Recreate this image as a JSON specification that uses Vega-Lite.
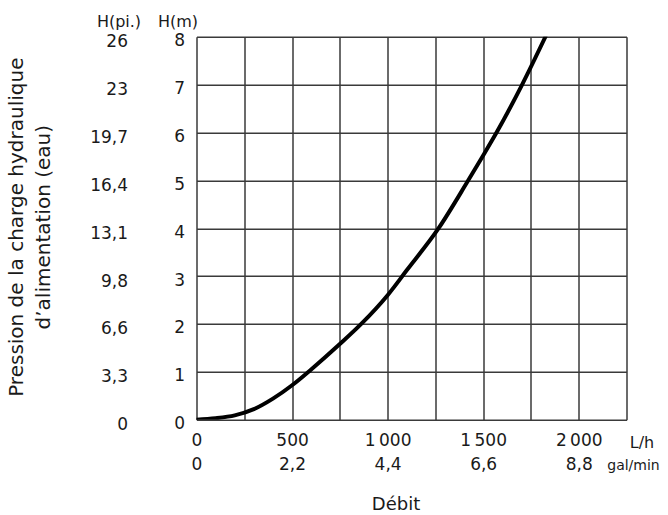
{
  "$schema": "https://vega.github.io/schema/vega-lite/v6.json",
  "width": 430,
  "height": 383,
  "autosize": {"type": "none"},
  "padding": {"left": 196.5, "top": 36.7, "right": 41.5, "bottom": 95.3},
  "background": "white",
  "config": {
    "view": {"stroke": null},
    "font": "DejaVu Sans",
    "axis": {
      "labelColor": "#1a1a1a",
      "titleColor": "#1a1a1a",
      "titleFontWeight": "normal",
      "labelFont": "DejaVu Sans",
      "titleFont": "DejaVu Sans"
    }
  },
  "data": {
    "values": [
      {"Lh": 0, "m": 0},
      {"Lh": 100, "m": 0.03},
      {"Lh": 200, "m": 0.09},
      {"Lh": 300, "m": 0.22},
      {"Lh": 400, "m": 0.44},
      {"Lh": 500, "m": 0.72},
      {"Lh": 600, "m": 1.05},
      {"Lh": 750, "m": 1.58},
      {"Lh": 862, "m": 2.0},
      {"Lh": 1000, "m": 2.6},
      {"Lh": 1100, "m": 3.12},
      {"Lh": 1267, "m": 4.0},
      {"Lh": 1419, "m": 4.98},
      {"Lh": 1500, "m": 5.52},
      {"Lh": 1573, "m": 6.02},
      {"Lh": 1704, "m": 7.0},
      {"Lh": 1826, "m": 8.0}
    ]
  },
  "layer": [
    {
      "mark": {"type": "line", "stroke": "black", "strokeWidth": 4, "interpolate": "monotone", "strokeCap": "round", "clip": true},
      "encoding": {
        "x": {
          "field": "Lh", "type": "quantitative",
          "scale": {"domain": [0, 2250], "nice": false},
          "axis": {
            "orient": "bottom",
            "values": [0, 250, 500, 750, 1000, 1250, 1500, 1750, 2000, 2250],
            "grid": true, "gridColor": "#3a3a3a", "gridWidth": 1.5,
            "domain": false, "ticks": false,
            "labelExpr": "datum.value == 0 ? ['0','0'] : datum.value == 500 ? ['500','2,2'] : datum.value == 1000 ? ['1\u202f000','4,4'] : datum.value == 1500 ? ['1\u202f500','6,6'] : datum.value == 2000 ? ['2\u202f000','8,8'] : ''",
            "labelOverlap": false, "labelFlush": false,
            "labelFontSize": 17, "labelLineHeight": 24, "labelBaseline": "top", "labelPadding": 13,
            "title": "Débit", "titleFontSize": 18, "titleX": 199, "titleY": 90,
            "titleAlign": "center", "titleBaseline": "alphabetic", "titleAnchor": null
          }
        },
        "y": {
          "field": "m", "type": "quantitative",
          "scale": {"domain": [0, 8], "nice": false},
          "axis": {
            "orient": "left",
            "values": [0, 1, 2, 3, 4, 5, 6, 7, 8],
            "grid": true, "gridColor": "#3a3a3a", "gridWidth": 1.5,
            "domain": false, "ticks": false,
            "labelFontSize": 17, "labelPadding": 12, "labelOffset": 4, "labelBaseline": "middle",
            "title": "H(m)", "titleFontSize": 16, "titleAngle": 0, "titleX": -19, "titleY": -10.7,
            "titleAlign": "center", "titleBaseline": "alphabetic"
          }
        }
      }
    },
    {
      "mark": {"type": "line", "opacity": 0},
      "encoding": {
        "x": {
          "field": "Lh", "type": "quantitative",
          "axis": {
            "orient": "bottom", "grid": false, "domain": false, "ticks": false, "labels": false,
            "title": "L/h", "titleFontSize": 16, "titleX": 445, "titleY": 28,
            "titleAlign": "center", "titleBaseline": "alphabetic"
          }
        },
        "y": {
          "field": "m", "type": "quantitative",
          "axis": {
            "orient": "left", "grid": false, "domain": false, "ticks": false,
            "values": [0, 1, 2, 3, 4, 5, 6, 7, 8],
            "labelExpr": "['0','3,3','6,6','9,8','13,1','16,4','19,7','23','26'][datum.value]",
            "labelFontSize": 17, "labelPadding": 69, "labelOffset": 5, "labelBaseline": "middle",
            "title": "H(pi.)", "titleFontSize": 16, "titleAngle": 0, "titleX": -78, "titleY": -10.7,
            "titleAlign": "center", "titleBaseline": "alphabetic"
          }
        }
      }
    },
    {
      "mark": {"type": "line", "opacity": 0},
      "encoding": {
        "x": {
          "field": "Lh", "type": "quantitative",
          "axis": {
            "orient": "bottom", "grid": false, "domain": false, "ticks": false, "labels": false,
            "title": "gal/min", "titleFontSize": 14, "titleX": 436.5, "titleY": 50,
            "titleAlign": "center", "titleBaseline": "alphabetic"
          }
        },
        "y": {
          "field": "m", "type": "quantitative",
          "axis": {
            "orient": "left", "grid": false, "domain": false, "ticks": false, "labels": false,
            "title": ["Pression de la charge hydraulique", "d’alimentation (eau)"],
            "titleFontSize": 20, "titleLineHeight": 27, "titleAngle": -90,
            "titleX": -174, "titleY": 190, "titleAlign": "center", "titleBaseline": "alphabetic"
          }
        }
      }
    }
  ],
  "resolve": {"axis": {"x": "independent", "y": "independent"}}
}
